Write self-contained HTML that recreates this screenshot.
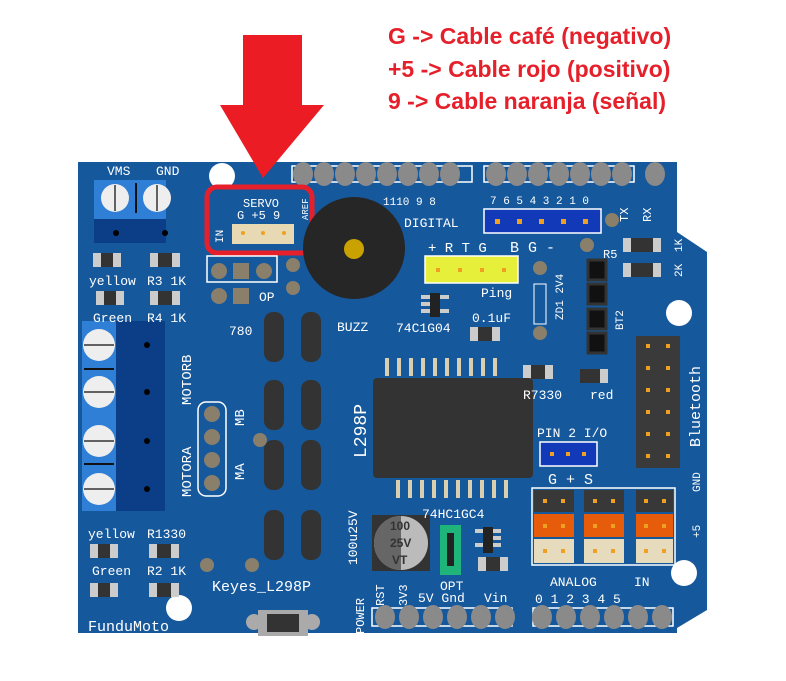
<!DOCTYPE html>
<html><head><meta charset="utf-8"><style>
html,body{margin:0;padding:0;background:#fff;width:786px;height:681px;overflow:hidden}
svg{display:block}
.t{font-family:"Liberation Mono",monospace;fill:#fff;font-size:13px}
.r{font-family:"Liberation Sans",sans-serif;font-weight:bold;fill:#e5202a;font-size:23px}
</style></head><body>
<svg width="786" height="681" viewBox="0 0 786 681" xmlns="http://www.w3.org/2000/svg">
<text class="r" x="388" y="44">G -&gt; Cable café (negativo)</text>
<text class="r" x="388" y="77">+5 -&gt; Cable rojo (positivo)</text>
<text class="r" x="388" y="109">9 -&gt; Cable naranja (señal)</text>
<!-- board -->
<polygon points="78,162 677,162 677,232 707,252 707,610 677,628 677,633 78,633" fill="#16589c"/>
<!-- mounting holes -->
<circle cx="222" cy="176" r="13" fill="#fff"/>
<circle cx="679" cy="313" r="13" fill="#fff"/>
<circle cx="684" cy="573" r="13" fill="#fff"/>
<circle cx="179" cy="608" r="13" fill="#fff"/>
<!-- top headers -->
<g fill="#8a8a8a">
<rect x="292" y="166" width="180" height="16" fill="none" stroke="#fff" stroke-width="1.5"/>
<ellipse cx="303" cy="174" rx="10" ry="12"/><ellipse cx="324" cy="174" rx="10" ry="12"/><ellipse cx="345" cy="174" rx="10" ry="12"/><ellipse cx="366" cy="174" rx="10" ry="12"/><ellipse cx="387" cy="174" rx="10" ry="12"/><ellipse cx="408" cy="174" rx="10" ry="12"/><ellipse cx="429" cy="174" rx="10" ry="12"/><ellipse cx="450" cy="174" rx="10" ry="12"/>
<rect x="484" y="166" width="150" height="16" fill="none" stroke="#fff" stroke-width="1.5"/>
<ellipse cx="496" cy="174" rx="10" ry="12"/><ellipse cx="517" cy="174" rx="10" ry="12"/><ellipse cx="538" cy="174" rx="10" ry="12"/><ellipse cx="559" cy="174" rx="10" ry="12"/><ellipse cx="580" cy="174" rx="10" ry="12"/><ellipse cx="601" cy="174" rx="10" ry="12"/><ellipse cx="622" cy="174" rx="10" ry="12"/><ellipse cx="655" cy="174" rx="10" ry="12"/>
</g>
<!-- bottom headers -->
<g fill="#8a8a8a">
<rect x="372" y="608" width="140" height="18" fill="none" stroke="#fff" stroke-width="1.5"/>
<ellipse cx="385" cy="617" rx="10" ry="12"/><ellipse cx="409" cy="617" rx="10" ry="12"/><ellipse cx="433" cy="617" rx="10" ry="12"/><ellipse cx="457" cy="617" rx="10" ry="12"/><ellipse cx="481" cy="617" rx="10" ry="12"/><ellipse cx="505" cy="617" rx="10" ry="12"/>
<rect x="533" y="608" width="140" height="18" fill="none" stroke="#fff" stroke-width="1.5"/>
<ellipse cx="542" cy="617" rx="10" ry="12"/><ellipse cx="566" cy="617" rx="10" ry="12"/><ellipse cx="590" cy="617" rx="10" ry="12"/><ellipse cx="614" cy="617" rx="10" ry="12"/><ellipse cx="638" cy="617" rx="10" ry="12"/><ellipse cx="662" cy="617" rx="10" ry="12"/>
</g>
<!-- VMS/GND terminal -->
<rect x="94" y="180" width="72" height="39" fill="#2f7fd6"/>
<rect x="94" y="219" width="72" height="24" fill="#0b3e86"/>
<circle cx="115" cy="198" r="14" fill="#eee"/><circle cx="157" cy="198" r="14" fill="#eee"/>
<line x1="115" y1="185" x2="115" y2="211" stroke="#333" stroke-width="1.5"/><line x1="157" y1="185" x2="157" y2="211" stroke="#333" stroke-width="1.5"/>
<line x1="136" y1="183" x2="136" y2="213" stroke="#111" stroke-width="2"/>
<circle cx="116" cy="233" r="3" fill="#000"/><circle cx="165" cy="233" r="3" fill="#000"/>
<text class="t" x="107" y="175">VMS</text><text class="t" x="156" y="175">GND</text>
<!-- motor terminal -->
<rect x="82" y="321" width="34" height="190" fill="#2f7fd6"/>
<rect x="116" y="321" width="49" height="190" fill="#0b3e86"/>
<g fill="#eee"><circle cx="99" cy="345" r="16"/><circle cx="99" cy="392" r="16"/><circle cx="99" cy="441" r="16"/><circle cx="99" cy="489" r="16"/></g>
<g stroke="#333" stroke-width="1.5"><line x1="84" y1="345" x2="114" y2="345"/><line x1="84" y1="392" x2="114" y2="392"/><line x1="84" y1="441" x2="114" y2="441"/><line x1="84" y1="489" x2="114" y2="489"/><line x1="84" y1="369" x2="114" y2="369" stroke="#111" stroke-width="2"/><line x1="84" y1="464" x2="114" y2="464" stroke="#111" stroke-width="2"/></g>
<g fill="#000"><circle cx="147" cy="345" r="3"/><circle cx="147" cy="392" r="3"/><circle cx="147" cy="441" r="3"/><circle cx="147" cy="489" r="3"/></g>
<!-- small resistors/leds -->
<g>
<rect x="93" y="253" width="28" height="14" fill="#333"/><rect x="93" y="253" width="8" height="14" fill="#ccc"/><rect x="113" y="253" width="8" height="14" fill="#ccc"/>
<rect x="150" y="253" width="30" height="14" fill="#333"/><rect x="150" y="253" width="8" height="14" fill="#ccc"/><rect x="172" y="253" width="8" height="14" fill="#ccc"/>
<rect x="96" y="291" width="28" height="14" fill="#333"/><rect x="96" y="291" width="8" height="14" fill="#ccc"/><rect x="116" y="291" width="8" height="14" fill="#ccc"/>
<rect x="150" y="291" width="30" height="14" fill="#333"/><rect x="150" y="291" width="8" height="14" fill="#ccc"/><rect x="172" y="291" width="8" height="14" fill="#ccc"/>
<rect x="90" y="544" width="28" height="14" fill="#333"/><rect x="90" y="544" width="8" height="14" fill="#ccc"/><rect x="110" y="544" width="8" height="14" fill="#ccc"/>
<rect x="149" y="544" width="30" height="14" fill="#333"/><rect x="149" y="544" width="8" height="14" fill="#ccc"/><rect x="171" y="544" width="8" height="14" fill="#ccc"/>
<rect x="90" y="583" width="28" height="14" fill="#333"/><rect x="90" y="583" width="8" height="14" fill="#ccc"/><rect x="110" y="583" width="8" height="14" fill="#ccc"/>
<rect x="149" y="583" width="30" height="14" fill="#333"/><rect x="149" y="583" width="8" height="14" fill="#ccc"/><rect x="171" y="583" width="8" height="14" fill="#ccc"/>
<rect x="523" y="365" width="30" height="14" fill="#333"/><rect x="523" y="365" width="8" height="14" fill="#ccc"/><rect x="545" y="365" width="8" height="14" fill="#ccc"/>
<rect x="580" y="369" width="28" height="14" fill="#333"/><rect x="600" y="369" width="8" height="14" fill="#ccc"/>
<rect x="470" y="327" width="30" height="14" fill="#333"/><rect x="470" y="327" width="8" height="14" fill="#ccc"/><rect x="492" y="327" width="8" height="14" fill="#ccc"/>
<rect x="623" y="238" width="38" height="14" fill="#333"/><rect x="623" y="238" width="8" height="14" fill="#ccc"/><rect x="653" y="238" width="8" height="14" fill="#ccc"/>
<rect x="623" y="263" width="38" height="14" fill="#333"/><rect x="623" y="263" width="8" height="14" fill="#ccc"/><rect x="653" y="263" width="8" height="14" fill="#ccc"/>
<rect x="478" y="557" width="30" height="14" fill="#333"/><rect x="478" y="557" width="8" height="14" fill="#ccc"/><rect x="500" y="557" width="8" height="14" fill="#ccc"/>
</g>
<text class="t" x="89" y="285">yellow</text><text class="t" x="147" y="285">R3 1K</text>
<text class="t" x="93" y="322">Green</text><text class="t" x="147" y="322">R4 1K</text>
<text class="t" x="88" y="538">yellow</text><text class="t" x="147" y="538">R1330</text>
<text class="t" x="92" y="575">Green</text><text class="t" x="147" y="575">R2 1K</text>
<text class="t" x="88" y="631" style="font-size:15px">FunduMoto</text>
<text class="t" x="212" y="591" style="font-size:15px">Keyes_L298P</text>
<!-- servo header -->
<rect x="232" y="224" width="62" height="20" fill="#e6d9b3"/>
<g fill="#f0a020"><circle cx="243" cy="233" r="2"/><circle cx="263" cy="233" r="2"/><circle cx="284" cy="233" r="2"/></g>
<text class="t" x="243" y="207" style="font-size:12px">SERVO</text>
<text class="t" x="237" y="219" style="font-size:12px">G +5 9</text>
<text class="t" transform="translate(223,243) rotate(-90)" style="font-size:11px">IN</text>
<text class="t" transform="translate(308,220) rotate(-90)" style="font-size:9px">AREF</text>
<rect x="207" y="187" width="105" height="66" rx="10" fill="none" stroke="#e5202a" stroke-width="5"/>
<!-- red arrow -->
<polygon points="243,35 302,35 302,105 324,105 263,178 220,105 243,105" fill="#ec1c24"/>
<!-- OP header -->
<rect x="207" y="256" width="70" height="26" fill="none" stroke="#fff" stroke-width="1.5"/>
<g fill="#8a7f6a"><circle cx="219" cy="271" r="8"/><rect x="233" y="263" width="16" height="16"/><circle cx="264" cy="271" r="8"/><circle cx="219" cy="296" r="8"/><rect x="233" y="288" width="16" height="16"/><circle cx="293" cy="265" r="7"/><circle cx="293" cy="288" r="7"/></g>
<text class="t" x="259" y="301">OP</text>
<!-- buzzer -->
<circle cx="354" cy="248" r="51" fill="#262626"/><circle cx="354" cy="249" r="10" fill="#c9a200"/>
<text class="t" x="337" y="331">BUZZ</text>
<text class="t" x="229" y="335">780</text>
<!-- big caps / resistors (dark pills) -->
<g fill="#333">
<rect x="264" y="312" width="20" height="50" rx="9"/><rect x="301" y="312" width="20" height="50" rx="9"/>
<rect x="264" y="380" width="20" height="50" rx="9"/><rect x="301" y="380" width="20" height="50" rx="9"/>
<rect x="264" y="440" width="20" height="50" rx="9"/><rect x="301" y="440" width="20" height="50" rx="9"/>
<rect x="264" y="510" width="20" height="50" rx="9"/><rect x="301" y="510" width="20" height="50" rx="9"/>
</g>
<circle cx="260" cy="440" r="7" fill="#8a7f6a"/><circle cx="207" cy="565" r="7" fill="#8a7f6a"/><circle cx="252" cy="565" r="7" fill="#8a7f6a"/>
<!-- MA MB header -->
<rect x="198" y="402" width="28" height="94" rx="8" fill="none" stroke="#fff" stroke-width="1.5"/>
<g fill="#8a7f6a"><circle cx="212" cy="414" r="8"/><circle cx="212" cy="437" r="8"/><circle cx="212" cy="460" r="8"/><circle cx="212" cy="483" r="8"/></g>
<text class="t" transform="translate(191,405) rotate(-90)" style="font-size:14px">MOTORB</text>
<text class="t" transform="translate(191,497) rotate(-90)" style="font-size:14px">MOTORA</text>
<text class="t" transform="translate(244,426) rotate(-90)" style="font-size:14px">MB</text>
<text class="t" transform="translate(244,480) rotate(-90)" style="font-size:14px">MA</text>
<!-- L298P chip -->
<rect x="373" y="378" width="160" height="100" rx="4" fill="#333"/>
<g fill="#d9cfb0">
<rect x="385" y="358" width="4" height="18"/><rect x="397" y="358" width="4" height="18"/><rect x="409" y="358" width="4" height="18"/><rect x="421" y="358" width="4" height="18"/><rect x="433" y="358" width="4" height="18"/><rect x="445" y="358" width="4" height="18"/><rect x="457" y="358" width="4" height="18"/><rect x="469" y="358" width="4" height="18"/><rect x="481" y="358" width="4" height="18"/><rect x="493" y="358" width="4" height="18"/>
<rect x="396" y="480" width="4" height="18"/><rect x="408" y="480" width="4" height="18"/><rect x="420" y="480" width="4" height="18"/><rect x="432" y="480" width="4" height="18"/><rect x="444" y="480" width="4" height="18"/><rect x="456" y="480" width="4" height="18"/><rect x="468" y="480" width="4" height="18"/><rect x="480" y="480" width="4" height="18"/><rect x="492" y="480" width="4" height="18"/><rect x="504" y="480" width="4" height="18"/>
</g>
<text class="t" transform="translate(366,458) rotate(-90)" style="font-size:18px">L298P</text>
<text class="t" transform="translate(357,565) rotate(-90)" style="font-size:13px">100u25V</text>
<!-- electrolytic cap -->
<rect x="372" y="515" width="58" height="56" fill="#333"/>
<circle cx="401" cy="543" r="27" fill="#bbb"/><path d="M401,516 A27,27 0 0 0 401,570 Z" fill="#666"/>
<text x="390" y="530" style="font-family:'Liberation Sans',sans-serif;font-weight:bold;font-size:12px;fill:#333">100</text>
<text x="390" y="547" style="font-family:'Liberation Sans',sans-serif;font-weight:bold;font-size:12px;fill:#333">25V</text>
<text x="392" y="564" style="font-family:'Liberation Sans',sans-serif;font-weight:bold;font-size:12px;fill:#333">VT</text>
<!-- OPT jumper -->
<rect x="440" y="525" width="21" height="50" fill="#1fb47a"/><rect x="447" y="533" width="7" height="33" fill="#222"/>
<text class="t" x="440" y="590">OPT</text>
<text class="t" x="422" y="518">74HC1GC4</text>
<!-- small IC -->
<rect x="483" y="527" width="10" height="26" fill="#222"/>
<g fill="#ccc"><rect x="475" y="529" width="8" height="4"/><rect x="475" y="543" width="8" height="4"/><rect x="493" y="529" width="8" height="4"/><rect x="493" y="536" width="8" height="4"/><rect x="493" y="543" width="8" height="4"/></g>
<rect x="430" y="293" width="10" height="24" fill="#222"/>
<g fill="#ccc"><rect x="421" y="295" width="9" height="4"/><rect x="421" y="302" width="9" height="4"/><rect x="421" y="309" width="9" height="4"/><rect x="440" y="295" width="9" height="4"/><rect x="440" y="309" width="9" height="4"/></g>
<text class="t" x="396" y="332">74C1G04</text>
<text class="t" x="472" y="322">0.1uF</text>
<!-- digital labels -->
<text class="t" x="383" y="205" style="font-size:11px">1110 9 8</text>
<text class="t" x="404" y="227">DIGITAL</text>
<text class="t" x="490" y="204" style="font-size:11px">7  6  5  4  3  2  1  0</text>
<text class="t" transform="translate(628,222) rotate(-90)" style="font-size:12px">TX</text>
<text class="t" transform="translate(651,222) rotate(-90)" style="font-size:12px">RX</text>
<!-- blue header -->
<rect x="484" y="209" width="117" height="24" fill="#1239b8" stroke="#fff" stroke-width="1.5"/>
<g fill="#f0a020"><rect x="495" y="219" width="5" height="5"/><rect x="517" y="219" width="5" height="5"/><rect x="539" y="219" width="5" height="5"/><rect x="561" y="219" width="5" height="5"/><rect x="583" y="219" width="5" height="5"/></g>
<text class="t" x="510" y="252" style="font-size:15px">B  G  -</text>
<circle cx="612" cy="220" r="7" fill="#8a7f6a"/><circle cx="587" cy="245" r="7" fill="#8a7f6a"/>
<!-- Ping -->
<rect x="425" y="256" width="93" height="27" fill="#e6ef3a" stroke="#fff" stroke-width="1.5"/>
<g fill="#f0a020"><rect x="436" y="268" width="4" height="4"/><rect x="458" y="268" width="4" height="4"/><rect x="480" y="268" width="4" height="4"/><rect x="502" y="268" width="4" height="4"/></g>
<text class="t" x="428" y="252" style="font-size:14px">+ R T G</text>
<text class="t" x="481" y="297">Ping</text>
<circle cx="540" cy="268" r="7" fill="#8a7f6a"/><circle cx="540" cy="333" r="7" fill="#8a7f6a"/>
<rect x="534" y="284" width="12" height="40" fill="none" stroke="#fff"/>
<text class="t" transform="translate(563,320) rotate(-90)" style="font-size:11px">ZD1 2V4</text>
<!-- BT2 -->
<g fill="#111" stroke="#333" stroke-width="3"><rect x="588" y="260" width="18" height="20"/><rect x="588" y="284" width="18" height="20"/><rect x="588" y="309" width="18" height="20"/><rect x="588" y="333" width="18" height="20"/></g>
<text class="t" transform="translate(623,330) rotate(-90)" style="font-size:11px">BT2</text>
<text class="t" x="603" y="258" style="font-size:12px">R5</text>
<text class="t" transform="translate(682,252) rotate(-90)" style="font-size:11px">1K</text>
<text class="t" transform="translate(682,277) rotate(-90)" style="font-size:11px">2K</text>
<text class="t" x="523" y="399">R7330</text><text class="t" x="590" y="399">red</text>
<!-- Bluetooth -->
<rect x="636" y="336" width="44" height="132" fill="#3a3a3a"/>
<g fill="#f0a020"><rect x="646" y="344" width="4" height="4"/><rect x="666" y="344" width="4" height="4"/><rect x="646" y="366" width="4" height="4"/><rect x="666" y="366" width="4" height="4"/><rect x="646" y="388" width="4" height="4"/><rect x="666" y="388" width="4" height="4"/><rect x="646" y="410" width="4" height="4"/><rect x="666" y="410" width="4" height="4"/><rect x="646" y="432" width="4" height="4"/><rect x="666" y="432" width="4" height="4"/><rect x="646" y="454" width="4" height="4"/><rect x="666" y="454" width="4" height="4"/></g>
<text class="t" transform="translate(700,447) rotate(-90)" style="font-size:15px">Bluetooth</text>
<text class="t" transform="translate(700,492) rotate(-90)" style="font-size:11px">GND</text>
<text class="t" transform="translate(700,538) rotate(-90)" style="font-size:11px">+5</text>
<!-- PIN 2 I/O -->
<text class="t" x="537" y="437">PIN 2 I/O</text>
<rect x="540" y="442" width="57" height="24" fill="#1239b8" stroke="#fff" stroke-width="1.5"/>
<g fill="#f0a020"><rect x="550" y="452" width="4" height="4"/><rect x="566" y="452" width="4" height="4"/><rect x="582" y="452" width="4" height="4"/></g>
<text class="t" x="548" y="484" style="font-size:15px">G + S</text>
<!-- analog block -->
<rect x="532" y="488" width="143" height="77" fill="none" stroke="#fff" stroke-width="1.5"/>
<g fill="#383838"><rect x="534" y="490" width="40" height="22"/><rect x="584" y="490" width="40" height="22"/><rect x="636" y="490" width="37" height="22"/></g>
<g fill="#e65c0a"><rect x="534" y="514" width="40" height="23"/><rect x="584" y="514" width="40" height="23"/><rect x="636" y="514" width="37" height="23"/></g>
<g fill="#e6dcbd"><rect x="534" y="539" width="40" height="24"/><rect x="584" y="539" width="40" height="24"/><rect x="636" y="539" width="37" height="24"/></g>
<g fill="#f0a020"><rect x="543" y="499" width="4" height="4"/><rect x="561" y="499" width="4" height="4"/><rect x="593" y="499" width="4" height="4"/><rect x="611" y="499" width="4" height="4"/><rect x="644" y="499" width="4" height="4"/><rect x="662" y="499" width="4" height="4"/>
<rect x="543" y="524" width="4" height="4"/><rect x="561" y="524" width="4" height="4"/><rect x="593" y="524" width="4" height="4"/><rect x="611" y="524" width="4" height="4"/><rect x="644" y="524" width="4" height="4"/><rect x="662" y="524" width="4" height="4"/>
<rect x="543" y="549" width="4" height="4"/><rect x="561" y="549" width="4" height="4"/><rect x="593" y="549" width="4" height="4"/><rect x="611" y="549" width="4" height="4"/><rect x="644" y="549" width="4" height="4"/><rect x="662" y="549" width="4" height="4"/></g>
<text class="t" x="550" y="586">ANALOG</text><text class="t" x="634" y="586">IN</text>
<text class="t" x="535" y="603">0 1 2 3 4 5</text>
<!-- power labels -->
<text class="t" transform="translate(364,634) rotate(-90)" style="font-size:12px">POWER</text>
<text class="t" transform="translate(384,606) rotate(-90)" style="font-size:12px">RST</text>
<text class="t" transform="translate(407,606) rotate(-90)" style="font-size:12px">3V3</text>
<text class="t" x="418" y="602">5V Gnd</text><text class="t" x="484" y="602">Vin</text>
<!-- reset button -->
<rect x="258" y="610" width="50" height="26" fill="#aaa"/><rect x="267" y="614" width="32" height="18" fill="#333"/>
<circle cx="254" cy="622" r="8" fill="#aaa"/><circle cx="312" cy="622" r="8" fill="#aaa"/>
</svg>
</body></html>
